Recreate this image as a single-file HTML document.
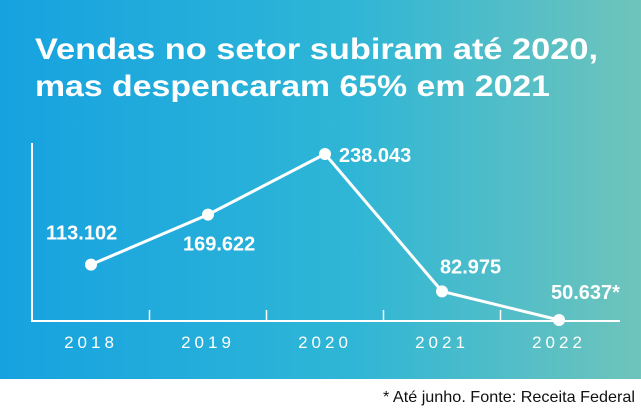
<!DOCTYPE html>
<html><head><meta charset="utf-8"><style>
html,body{margin:0;padding:0;background:#fff}
svg{display:block;font-family:"Liberation Sans",sans-serif}
</style></head><body>
<svg width="641" height="410" viewBox="0 0 641 410">
<defs><linearGradient id="bg" x1="0" x2="1" y1="0" y2="0">
<stop offset="0" stop-color="#16a2e0"/><stop offset="0.55" stop-color="#2fb6d6"/><stop offset="1" stop-color="#6fc4bb"/></linearGradient></defs>
<rect x="0" y="0" width="641" height="379" fill="url(#bg)"/>
<text x="35" y="59" fill="#fff" font-weight="bold" font-size="30" textLength="563" lengthAdjust="spacingAndGlyphs">Vendas no setor subiram até 2020,</text>
<text x="35" y="96" fill="#fff" font-weight="bold" font-size="30" textLength="515" lengthAdjust="spacingAndGlyphs">mas despencaram 65% em 2021</text>
<line x1="32" y1="143" x2="32" y2="322" stroke="#fff" stroke-width="2"/>
<line x1="32" y1="321" x2="620" y2="321" stroke="#fff" stroke-width="2"/>
<g id="marks"></g>
<text x="635" y="402" text-anchor="end" fill="#111" font-size="16" textLength="252" lengthAdjust="spacingAndGlyphs">* Até junho. Fonte: Receita Federal</text>
</svg>
<script>
const years=["2018","2019","2020","2021","2022"];
const values=[113102,169622,238043,82975,50637];
const labels=["113.102","169.622","238.043","82.975","50.637*"];
const ns="http://www.w3.org/2000/svg";
const g=document.getElementById('marks');
function xS(i){return 91+i*117;}
const vmin=50637,vmax=238043;
function yS(v){return 320-(v-vmin)/(vmax-vmin)*166;}
function mk(t,a){const e=document.createElementNS(ns,t);for(const k in a)e.setAttribute(k,a[k]);g.appendChild(e);return e;}
// ticks between years
for(let i=0;i<years.length-1;i++){
 const t=mk('line',{x1:(xS(i)+xS(i+1))/2,x2:(xS(i)+xS(i+1))/2,y1:310,y2:321,stroke:'#fff','stroke-width':1.5});
 
 
}
years.forEach((y,i)=>{
 const t=mk('text',{x:xS(i),y:348,'text-anchor':'middle',fill:'#fff','font-size':17,'letter-spacing':'4'});
 t.textContent=y;
 
 
});
const pts=values.map((v,i)=>xS(i)+','+yS(v)).join(' ');
const pl=mk('polyline',{points:pts,fill:'none',stroke:'#fff','stroke-width':3});


const off=[[-45,-25],[-25,36],[14,8],[-2,-18],[-8,-21]];
values.forEach((v,i)=>{
 const c=mk('circle',{cx:xS(i),cy:yS(v),r:6,fill:'#fff'});
 
 
 const t=mk('text',{x:xS(i)+off[i][0],y:yS(v)+off[i][1],fill:'#fff','font-size':20,'font-weight':'bold'});
 t.textContent=labels[i];
 
 
});
</script>
</body></html>
